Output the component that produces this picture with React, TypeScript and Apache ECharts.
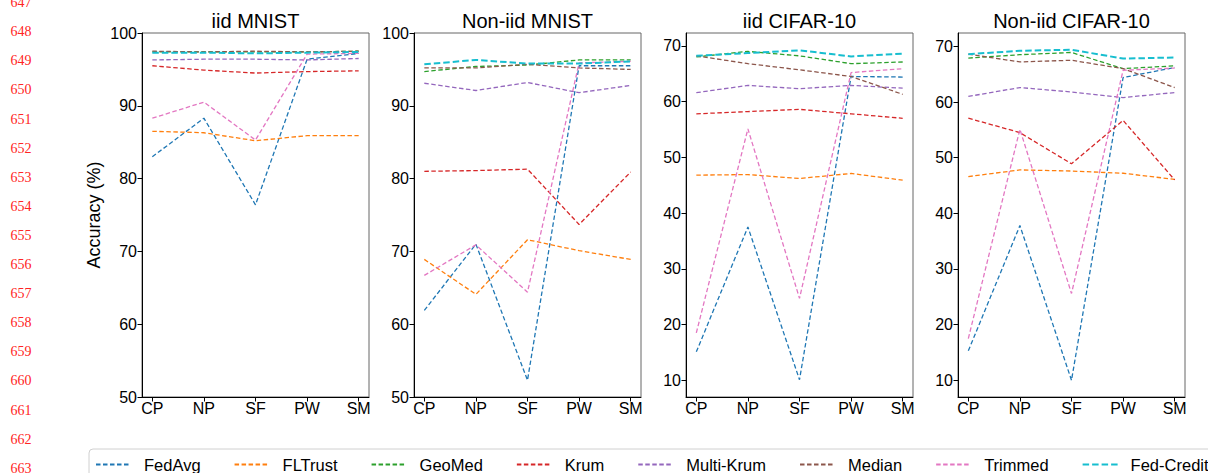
import React, { useEffect, useRef } from 'react';
import * as echarts from 'echarts';

const categories = ['CP', 'NP', 'SF', 'PW', 'SM'];
const methods = ['FedAvg', 'FLTrust', 'GeoMed', 'Krum', 'Multi-Krum', 'Median', 'Trimmed', 'Fed-Credit'];
const colors = ['#1f77b4', '#ff7f0e', '#2ca02c', '#d62728', '#9467bd', '#8c564b', '#e377c2', '#17becf'];
const panelTitles = ['iid MNIST', 'Non-iid MNIST', 'iid CIFAR-10', 'Non-iid CIFAR-10'];

// rows follow `methods` order
const iidMnist = [
  [83.0, 88.3, 76.4, 96.4, 97.2],
  [86.5, 86.3, 85.2, 85.9, 85.9],
  [97.4, 97.4, 97.4, 97.4, 97.5],
  [95.5, 94.9, 94.5, 94.7, 94.8],
  [96.3, 96.4, 96.4, 96.3, 96.5],
  [97.5, 97.4, 97.5, 97.4, 97.5],
  [88.3, 90.5, 85.3, 97.1, 97.2],
  [97.3, 97.3, 97.2, 97.3, 97.4],
];
const noniidMnist = [
  [61.9, 71.0, 52.3, 95.5, 95.5],
  [68.9, 64.1, 71.6, 70.1, 68.9],
  [94.7, 95.4, 95.6, 96.3, 96.3],
  [81.0, 81.1, 81.3, 73.7, 80.9],
  [93.1, 92.1, 93.2, 91.8, 92.8],
  [95.2, 95.2, 95.7, 95.2, 95.0],
  [66.7, 70.9, 64.4, 95.9, 96.1],
  [95.7, 96.3, 95.8, 95.8, 96.1],
];
const iidCifar = [
  [15.1, 37.5, 10.1, 64.5, 64.4],
  [46.8, 46.9, 46.2, 47.1, 45.9],
  [68.0, 69.0, 68.2, 66.8, 67.1],
  [57.8, 58.2, 58.6, 57.8, 57.0],
  [61.6, 62.9, 62.3, 62.9, 62.4],
  [68.2, 66.8, 65.7, 64.5, 61.3],
  [18.5, 55.1, 24.7, 65.2, 65.9],
  [68.2, 68.7, 69.2, 68.1, 68.6],
];
const noniidCifar = [
  [15.3, 37.8, 10.0, 64.4, 66.2],
  [46.6, 47.8, 47.6, 47.2, 46.1],
  [67.9, 68.5, 68.9, 66.0, 66.5],
  [57.1, 54.5, 48.9, 56.7, 46.0],
  [61.0, 62.6, 61.8, 60.8, 61.7],
  [68.6, 67.2, 67.5, 66.0, 62.6],
  [17.5, 55.1, 25.6, 65.7, 66.1],
  [68.6, 69.2, 69.4, 67.8, 68.0],
];
const panelData = [iidMnist, noniidMnist, iidCifar, noniidCifar];

const mnistTicks = [50, 60, 70, 80, 90, 100];
const cifarTicks = [10, 20, 30, 40, 50, 60, 70];
const panelTicks = [mnistTicks, mnistTicks, cifarTicks, cifarTicks];
const panelRanges = [[50, 100], [50, 100], [7.0, 72.3], [7.0, 72.4]];

const lineNumbers = ['647', '648', '649', '650', '651', '652', '653', '654', '655', '656', '657', '658', '659', '660', '661', '662', '663'];

const FONT = '"Liberation Sans", Arial, Helvetica, sans-serif';
const panelLefts = [142, 414, 686, 958];
const PW = 227;
const TOP = 33;
const PH = 364;
const xPos = [0, 1, 2, 3, 4];

export default function App() {
  const ref = useRef<HTMLDivElement>(null);
  useEffect(() => {
    if (!ref.current) return;
    const chart = echarts.init(ref.current, undefined, { renderer: 'svg' });

    const grid = panelLefts.map((l) => ({
      left: l, top: TOP, width: PW, height: PH,
      show: true, borderColor: '#666', borderWidth: 1, backgroundColor: 'transparent',
    }));
    const xAxis = panelLefts.map((_, i) => ({
      type: 'value', gridIndex: i, min: -0.2, max: 4.2,
      splitLine: { show: false },
      axisLine: { show: true, onZero: false, lineStyle: { color: '#000', width: 1 } },
      axisTick: { show: true, length: 4.5, customValues: xPos, lineStyle: { color: '#000' } },
      axisLabel: {
        customValues: xPos, formatter: (v: number) => categories[Math.round(v)],
        color: '#000', fontSize: 16, fontFamily: FONT, margin: 3,
      },
    }));
    const yAxis = panelLefts.map((_, i) => ({
      type: 'value', gridIndex: i, min: panelRanges[i][0], max: panelRanges[i][1],
      splitLine: { show: false },
      axisLine: { show: true, onZero: false, lineStyle: { color: '#000', width: 1 } },
      axisTick: { show: true, length: 4.5, customValues: panelTicks[i], lineStyle: { color: '#000' } },
      axisLabel: { customValues: panelTicks[i], color: '#000', fontSize: 16, fontFamily: FONT, margin: 5 },
      ...(i === 0
        ? {
            name: 'Accuracy (%)', nameLocation: 'middle', nameGap: 39, nameRotate: 90,
            nameTextStyle: { color: '#000', fontSize: 18, fontFamily: FONT },
          }
        : {}),
    }));

    const series: any[] = [];
    panelData.forEach((rows, p) => {
      rows.forEach((vals, m) => {
        const isCredit = methods[m] === 'Fed-Credit';
        series.push({
          type: 'line', name: methods[m], xAxisIndex: p, yAxisIndex: p,
          data: vals.map((v, k) => [k, v]),
          symbol: 'none', showSymbol: false,
          lineStyle: {
            color: colors[m], width: isCredit ? 2 : 1.3,
            type: isCredit ? [6.5, 3] : [4.5, 2.5],
          },
          itemStyle: { color: colors[m] },
          emphasis: { disabled: true },
        });
      });
    });

    const graphic: any[] = [];
    panelTitles.forEach((t, i) => {
      graphic.push({
        type: 'text', x: panelLefts[i] + PW / 2, y: 21,
        style: {
          text: t, fontSize: 20, fontFamily: FONT, fill: '#000',
          textAlign: 'center', textVerticalAlign: 'middle', align: 'center', verticalAlign: 'middle',
        },
      });
    });
    lineNumbers.forEach((n, k) => {
      graphic.push({
        type: 'text', x: 21, y: 2.6 + k * 29.1,
        style: {
          text: n, fontSize: 14, fontFamily: '"Liberation Serif", "DejaVu Serif", serif', fill: '#ff2424',
          textAlign: 'center', textVerticalAlign: 'middle', align: 'center', verticalAlign: 'middle',
        },
      });
    });

    chart.setOption({
      animation: false,
      grid, xAxis, yAxis, series, graphic,
      legend: {
        data: methods, left: 89, top: 449, width: 1150, orient: 'horizontal',
        itemWidth: 35, itemHeight: 14, itemGap: 33,
        padding: [7, 12, 20, 6],
        backgroundColor: '#fff', borderColor: '#d0d0d0', borderWidth: 1, borderRadius: 4,
        itemStyle: { color: 'transparent', borderWidth: 0, opacity: 0 },
        textStyle: { fontSize: 16.5, color: '#000', fontFamily: FONT, padding: [0, 0, 0, 8] },
        selectedMode: false,
      },
    });
    return () => chart.dispose();
  }, []);
  return (
    <div
      ref={ref}
      style={{ position: 'fixed', left: 0, top: 0, width: 1208, height: 473, background: '#fff' }}
    />
  );
}
